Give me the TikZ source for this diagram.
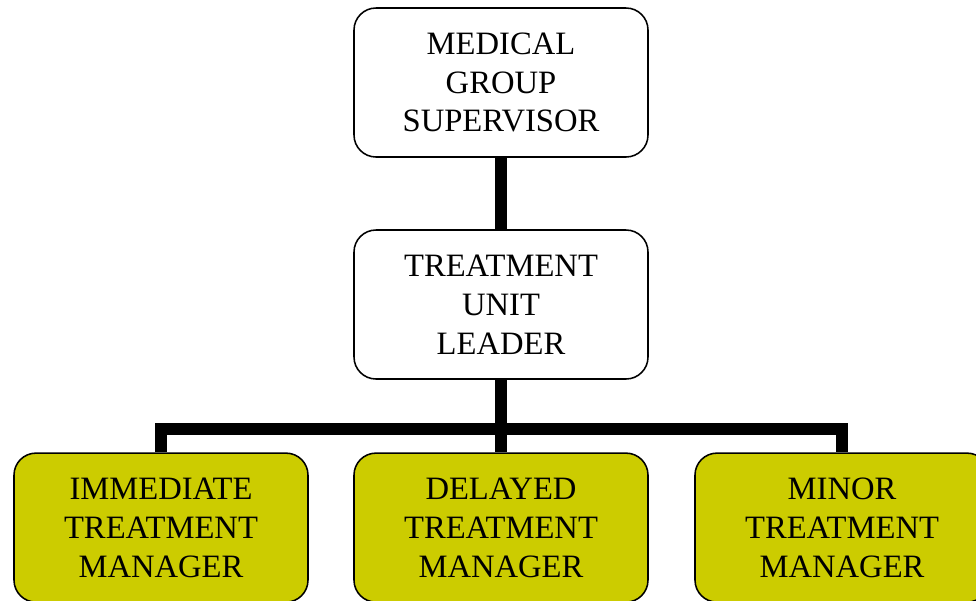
\documentclass[tikz,border=0pt]{standalone}
\usepackage{fontspec}
\setmainfont{Liberation Serif}
\usetikzlibrary{positioning}
\definecolor{olivebox}{RGB}{204,204,0}

\begin{document}
\begin{tikzpicture}[
    unit/.style={draw,line width=1.1pt,rounded corners=0.55cm,fill=white,
      minimum width=7.35cm,minimum height=3.725cm,align=center,inner sep=0pt,
      font=\fontsize{23.2}{27.7}\selectfont},
    manager/.style={unit,fill=olivebox},
    link/.style={line width=8.3pt,line join=miter}
  ]
    \clip (0,0) rectangle (24.4,-15);

    \node[unit] (sup) at (12.525,-2.0625) {MEDICAL\\GROUP\\SUPERVISOR};
    \node[unit] (lead) at (12.525,-7.6125) {TREATMENT\\UNIT\\LEADER};

    \node[manager] (del) at (12.525,-13.19) {DELAYED\\TREATMENT\\MANAGER};
    \node[manager] (imm) at (4.025,-13.19) {IMMEDIATE\\TREATMENT\\MANAGER};
    \node[manager] (min) at (21.05,-13.19) {MINOR\\TREATMENT\\MANAGER};

    \coordinate (bus) at (12.525,-10.725);

    \draw[link] (sup.south) -- (lead.north);
    \draw[link] (lead.south) -- (del.north);
    \draw[link] (imm.north) |- (bus) -| (min.north);
  \end{tikzpicture}
\end{document}
